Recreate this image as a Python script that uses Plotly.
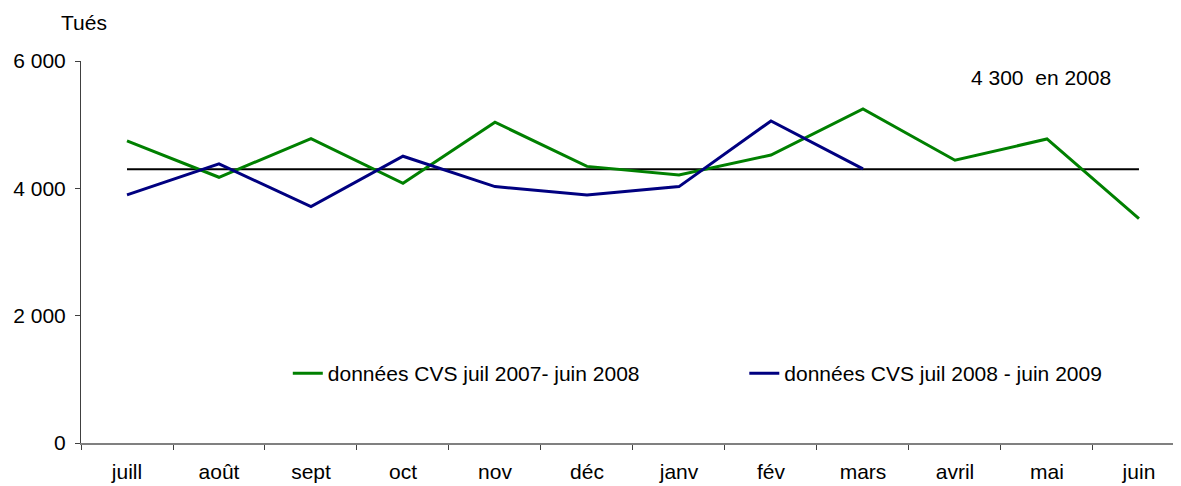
import plotly.graph_objects as go

months = ["juill", "août", "sept", "oct", "nov", "déc", "janv", "fév", "mars", "avril", "mai", "juin"]
serie_2007_2008 = [4744, 4174, 4781, 4080, 5038, 4345, 4210, 4524, 5247, 4441, 4775, 3524]
serie_2008_2009 = [3896, 4383, 3712, 4504, 4027, 3896, 4027, 5058, 4305]
reference_2008 = [4300] * len(months)
y_ticks = [0, 2000, 4000, 6000]
y_tick_labels = ["0", "2 000", "4 000", "6 000"]

FONT = "Liberation Sans, Arial, sans-serif"
FS = 21

fig = go.Figure()
fig.add_trace(go.Scatter(x=months, y=reference_2008, mode="lines",
                         line=dict(color="black", width=2), showlegend=False, hoverinfo="skip"))
fig.add_trace(go.Scatter(x=months, y=serie_2007_2008, mode="lines",
                         name="données CVS juil 2007- juin 2008",
                         line=dict(color="#008000", width=3), legend="legend"))
fig.add_trace(go.Scatter(x=months[:len(serie_2008_2009)], y=serie_2008_2009, mode="lines",
                         name="données CVS juil 2008 - juin 2009",
                         line=dict(color="#000080", width=3), legend="legend2"))

# page body adds an 8px offset: figure is 8px smaller, margins shifted
fig.update_layout(
    width=1173, height=478,
    margin=dict(l=73, r=0, t=53, b=43),
    paper_bgcolor="white", plot_bgcolor="white",
    font=dict(family=FONT, size=FS, color="black"),
    legend=dict(x=0.188, y=0.182, xanchor="left", yanchor="middle",
                bgcolor="rgba(0,0,0,0)", font=dict(size=FS)),
    legend2=dict(x=0.603, y=0.182, xanchor="left", yanchor="middle",
                 bgcolor="rgba(0,0,0,0)", font=dict(size=FS)),
    annotations=[
        dict(text="Tués", xref="paper", yref="paper", x=0.003, y=1.0, yshift=39,
             xanchor="center", yanchor="middle", showarrow=False, font=dict(size=FS)),
        dict(text="4 300  en 2008", xref="paper", yref="paper", x=0.9385, y=0.958,
             xanchor="right", yanchor="middle", showarrow=False, font=dict(size=FS)),
    ],
)
fig.update_xaxes(type="category", range=[-0.5, 11.457], showline=True, linecolor="#808080",
                 linewidth=2, ticks="outside", tickson="boundaries", ticklen=5,
                 tickcolor="#404040", showgrid=False, zeroline=False, ticklabelstandoff=9)
fig.update_yaxes(range=[0, 6000], tickvals=y_ticks, ticktext=y_tick_labels, showline=True,
                 linecolor="#404040", linewidth=1, ticks="outside", ticklen=5,
                 tickcolor="#404040", showgrid=False, zeroline=False, ticklabelstandoff=5)

fig.write_html("out.html")
